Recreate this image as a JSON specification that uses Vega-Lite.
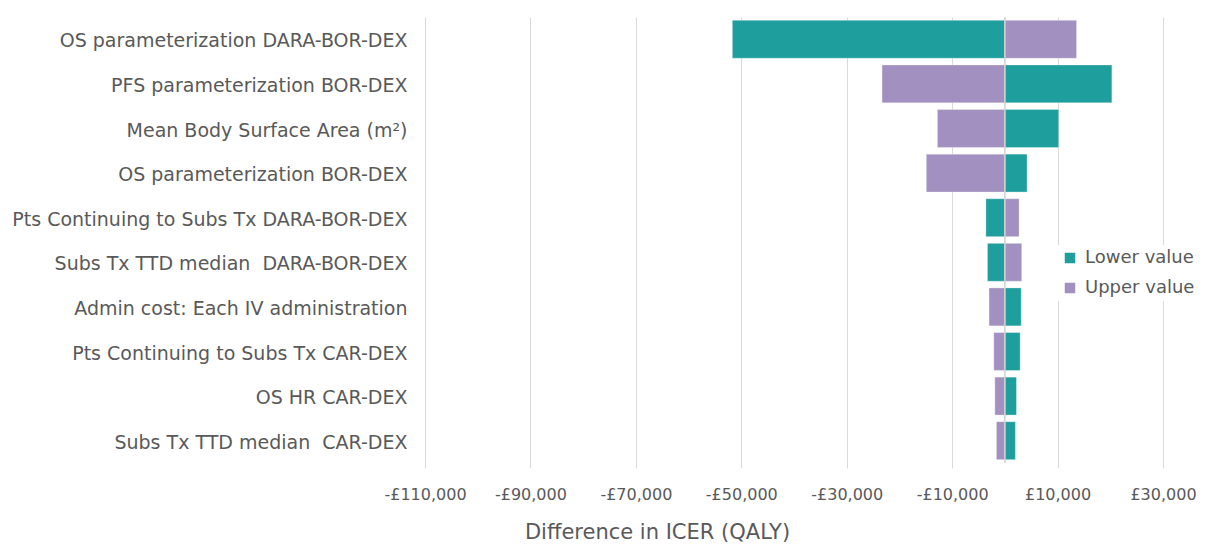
{
  "$schema": "https://vega.github.io/schema/vega-lite/v6.json",
  "autosize": {"type": "none"},
  "width": 738,
  "height": 446,
  "padding": {"left": 425, "top": 17, "right": 43, "bottom": 82},
  "background": "white",
  "config": {
    "view": {"stroke": null},
    "font": "DejaVu Sans"
  },
  "data": {
    "values": [
      {"param": "OS parameterization DARA-BOR-DEX", "series": "Lower value", "value": -51700},
      {"param": "OS parameterization DARA-BOR-DEX", "series": "Upper value", "value": 13600},
      {"param": "PFS parameterization BOR-DEX", "series": "Lower value", "value": 20300},
      {"param": "PFS parameterization BOR-DEX", "series": "Upper value", "value": -23300},
      {"param": "Mean Body Surface Area (m²)", "series": "Lower value", "value": 10200},
      {"param": "Mean Body Surface Area (m²)", "series": "Upper value", "value": -12800},
      {"param": "OS parameterization BOR-DEX", "series": "Lower value", "value": 4200},
      {"param": "OS parameterization BOR-DEX", "series": "Upper value", "value": -14900},
      {"param": "Pts Continuing to Subs Tx DARA-BOR-DEX", "series": "Lower value", "value": -3600},
      {"param": "Pts Continuing to Subs Tx DARA-BOR-DEX", "series": "Upper value", "value": 2700},
      {"param": "Subs Tx TTD median  DARA-BOR-DEX", "series": "Lower value", "value": -3300},
      {"param": "Subs Tx TTD median  DARA-BOR-DEX", "series": "Upper value", "value": 3200},
      {"param": "Admin cost: Each IV administration", "series": "Lower value", "value": 3100},
      {"param": "Admin cost: Each IV administration", "series": "Upper value", "value": -3000},
      {"param": "Pts Continuing to Subs Tx CAR-DEX", "series": "Lower value", "value": 2900},
      {"param": "Pts Continuing to Subs Tx CAR-DEX", "series": "Upper value", "value": -2100},
      {"param": "OS HR CAR-DEX", "series": "Lower value", "value": 2200},
      {"param": "OS HR CAR-DEX", "series": "Upper value", "value": -1900},
      {"param": "Subs Tx TTD median  CAR-DEX", "series": "Lower value", "value": 2000},
      {"param": "Subs Tx TTD median  CAR-DEX", "series": "Upper value", "value": -1600}
    ]
  },
  "layer": [
    {
      "mark": {"type": "bar", "stroke": "white", "strokeWidth": 0.5, "strokeOpacity": 0.6},
      "encoding": {
        "y": {
          "field": "param",
          "type": "nominal",
          "sort": null,
          "scale": {"paddingInner": 0.15, "paddingOuter": 0.075},
          "axis": {
            "title": null,
            "domain": false,
            "ticks": false,
            "labelPadding": 18,
            "labelFontSize": 19,
            "labelColor": "#595959",
            "labelLimit": 0,
            "labelOffset": 2,
            "labelExpr": "replace(datum.label, '  ', '\u00a0 ')"
          }
        },
        "x": {
          "field": "value",
          "type": "quantitative",
          "stack": null,
          "scale": {"domain": [-110000, 30000], "nice": false, "zero": false},
          "axis": {
            "values": [-110000, -90000, -70000, -50000, -30000, -10000, 10000, 30000],
            "labelExpr": "(datum.value < 0 ? '-£' : '£') + format(abs(datum.value), ',')",
            "grid": true,
            "gridColor": "#d9d9d9",
            "gridWidth": 1,
            "domain": false,
            "ticks": true,
            "tickColor": "#d9d9d9",
            "tickSize": 5,
            "labelPadding": 18,
            "labelFontSize": 16,
            "labelColor": "#595959",
            "labelFlush": false,
            "labelOverlap": false,
            "title": "Difference in ICER (QALY)",
            "titleFontSize": 21,
            "titleFontWeight": "normal",
            "titleColor": "#595959",
            "titleAnchor": null,
            "titleAlign": "center",
            "titleBaseline": "middle",
            "titleX": 232,
            "titleY": 69
          }
        },
        "color": {
          "field": "series",
          "type": "nominal",
          "scale": {"domain": ["Lower value", "Upper value"], "range": ["#1f9e9e", "#a291c0"]},
          "legend": {
            "title": null,
            "orient": "none",
            "legendX": 632,
            "legendY": 228,
            "symbolType": "square",
            "symbolSize": 110,
            "symbolStrokeWidth": 0,
            "labelFontSize": 18,
            "labelColor": "#595959",
            "labelOffset": 6,
            "rowPadding": 12,
            "fillColor": "white",
            "padding": 4
          }
        }
      }
    },
    {
      "data": {"values": [{"x": 0}]},
      "mark": {"type": "rule", "color": "#d0d0d0", "strokeWidth": 1.5},
      "encoding": {"x": {"field": "x", "type": "quantitative"}}
    }
  ]
}
